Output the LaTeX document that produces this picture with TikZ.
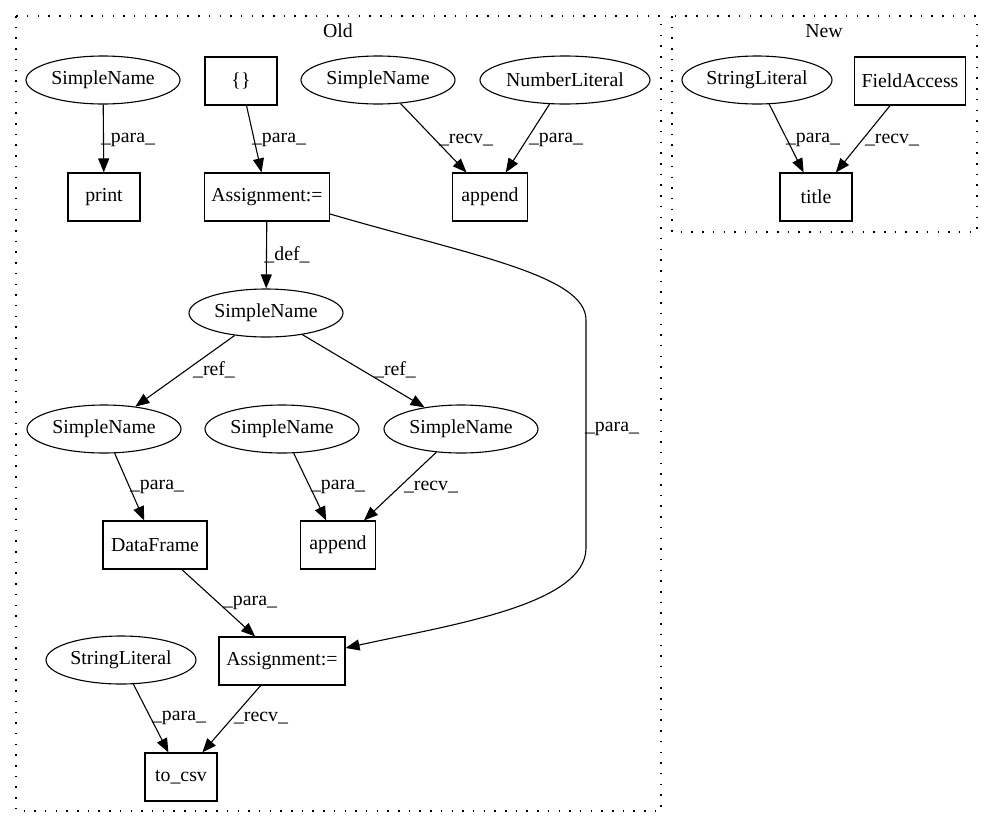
\documentclass[tikz,border=0pt]{standalone}
\usepackage{fontspec}
\setmainfont{Liberation Serif}
\usetikzlibrary{arrows.meta,shapes.geometric}
\begin{document}
\begin{tikzpicture}[x=1pt,y=-1pt,
  every node/.style={font=\fontsize{19.8}{23}\selectfont},
  ell/.style={draw,ellipse,line width=1.1pt,inner sep=0pt,minimum height=48pt},
  box/.style={draw,rectangle,line width=1.1pt,inner sep=0pt,minimum height=48pt},
  arr/.style={line width=1.1pt,-{Triangle[length=14pt,width=11pt]}},
  lbl/.style={inner sep=0pt},
  cluster/.style={line width=1.2pt,dash pattern=on 1.5pt off 9.2pt}]
\useasboundingbox (0,0) rectangle (993,828);
% clusters
\draw[cluster] (16,16) rectangle (661,811);
\draw[cluster] (672,16) rectangle (977,232);
\node (oldlbl) at (338,31) {Old};
\node (newlbl) at (824,31) {New};
% Old nodes
\node[ell,minimum width=154pt] (sn1) at (103,80) {SimpleName};
\node[box,minimum width=72pt] (print) at (104,197) {print};
\node[box,minimum width=72pt] (br) at (241,81) {\{\}};
\node[box,minimum width=125pt] (as1) at (267,197) {Assignment:=};
\node[ell,minimum width=154pt] (sn2) at (378,80) {SimpleName};
\node[ell,minimum width=170pt] (num) at (565,80) {NumberLiteral};
\node[box,minimum width=75pt] (app1) at (490,197) {append};
\node[ell,minimum width=154pt] (snd) at (266,313) {SimpleName};
\node[ell,minimum width=154pt] (snl) at (104,429) {SimpleName};
\node[ell,minimum width=154pt] (snm) at (282,429) {SimpleName};
\node[ell,minimum width=154pt] (snr) at (461,429) {SimpleName};
\node[box,minimum width=104pt] (df) at (155,545) {DataFrame};
\node[box,minimum width=75pt] (app2) at (338,545) {append};
\node[ell,minimum width=150pt] (sl1) at (121,660) {StringLiteral};
\node[box,minimum width=126pt] (as2) at (282,661) {Assignment:=};
\node[box,minimum width=72pt] (csv) at (181,777) {to\_csv};
% New nodes
\node[ell,minimum width=150pt] (sl2) at (757,80) {StringLiteral};
\node[box,minimum width=111pt] (fa) at (910,81) {FieldAccess};
\node[box,minimum width=72pt] (title) at (816,197) {title};
% edges
\draw[arr] (sn1) -- (print);
\draw[arr] (br) -- (as1);
\draw[arr] (sn2) -- (app1);
\draw[arr] (num) -- (app1);
\draw[arr] (sl2) -- (title);
\draw[arr] (fa) -- (title);
\draw[arr] (as1) -- (snd);
\draw[arr] (snd) -- (snl);
\draw[arr] (snd) -- (snr);
\draw[arr] (snl) -- (df);
\draw[arr] (snm) -- (app2);
\draw[arr] (snr) -- (app2);
\draw[arr] (df) -- (as2);
\draw[arr] (sl1) -- (csv);
\draw[arr] (as2) -- (csv);
\draw[arr] ([yshift=-17pt]as1.east) .. controls (470,255) and (586,275) .. (586,320)
  -- (586,548) .. controls (586,605) and (450,625) .. ([yshift=13pt]as2.east);
% labels
\node[lbl] (l1) at (128,140) {\_para\_};
\node[lbl] (l2) at (279,140) {\_para\_};
\node[lbl] (l3) at (466,140) {\_recv\_};
\node[lbl] (l4) at (556,140) {\_para\_};
\node[lbl] (l5) at (813,140) {\_para\_};
\node[lbl] (l6) at (892,140) {\_recv\_};
\node[lbl] (l7) at (287,255) {\_def\_};
\node[lbl] (l8) at (214,370) {\_ref\_};
\node[lbl] (l9) at (395,370) {\_ref\_};
\node[lbl] (l10) at (157,487) {\_para\_};
\node[lbl] (l11) at (338,487) {\_para\_};
\node[lbl] (l12) at (431,487) {\_recv\_};
\node[lbl] (l13) at (612,429) {\_para\_};
\node[lbl] (l14) at (250,603) {\_para\_};
\node[lbl] (l15) at (179,718) {\_para\_};
\node[lbl] (l16) at (261,718) {\_recv\_};
\end{tikzpicture}
\end{document}
